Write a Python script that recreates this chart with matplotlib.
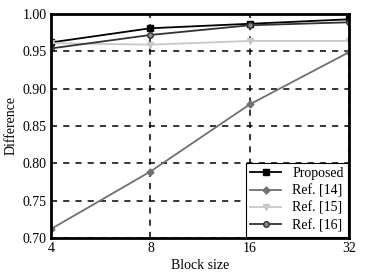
import matplotlib
matplotlib.use("Agg")
import matplotlib.pyplot as plt

# data
block_sizes = ["4", "8", "16", "32"]
proposed = [0.962, 0.981, 0.987, 0.993]
ref14 = [0.712, 0.789, 0.879, 0.949]
ref15 = [0.961, 0.959, 0.964, 0.964]
ref16 = [0.954, 0.972, 0.985, 0.989]

plt.rcParams["font.family"] = ["Liberation Serif", "DejaVu Serif"]
plt.rcParams["font.size"] = 10

fig = plt.figure(figsize=(3.73, 2.76), dpi=100)
ax = fig.add_axes([0.137, 0.138, 0.799, 0.811])

x = range(len(block_sizes))
ax.plot(x, proposed, color="black", marker="s", markersize=4, lw=1.3, label="Proposed")
ax.plot(x, ref14, color="#707070", marker="D", markersize=3.5, lw=1.3, label="Ref. [14]")
ax.plot(x, ref15, color="#c8c8c8", marker="v", markersize=4, lw=1.3, label="Ref. [15]")
ax.plot(x, ref16, color="#333333", marker="o", markersize=4, lw=1.3,
        markerfacecolor="#888888", label="Ref. [16]")

ax.set_xlim(0, 3)
ax.set_ylim(0.70, 1.00)
ax.set_xticks(list(x))
ax.set_xticklabels(block_sizes)
ax.set_yticks([0.70, 0.75, 0.80, 0.85, 0.90, 0.95, 1.00])
ax.set_yticklabels(["0.70", "0.75", "0.80", "0.85", "0.90", "0.95", "1.00"])
ax.tick_params(length=0, pad=3, colors="black")
ax.grid(True, color="black", linestyle=(0, (4, 4)), lw=1.1)
for s in ax.spines.values():
    s.set_linewidth(2)
    s.set_color("black")

ax.set_xlabel("Block size", labelpad=3)
ax.set_ylabel("Difference", labelpad=4)

leg = ax.legend(loc="lower right", fancybox=False, framealpha=1, edgecolor="black",
                borderaxespad=0.1, handlelength=2.2, labelspacing=0.3,
                borderpad=0.3, fontsize=10)
leg.get_frame().set_linewidth(0.8)

fig.savefig("out.png", dpi=100)
